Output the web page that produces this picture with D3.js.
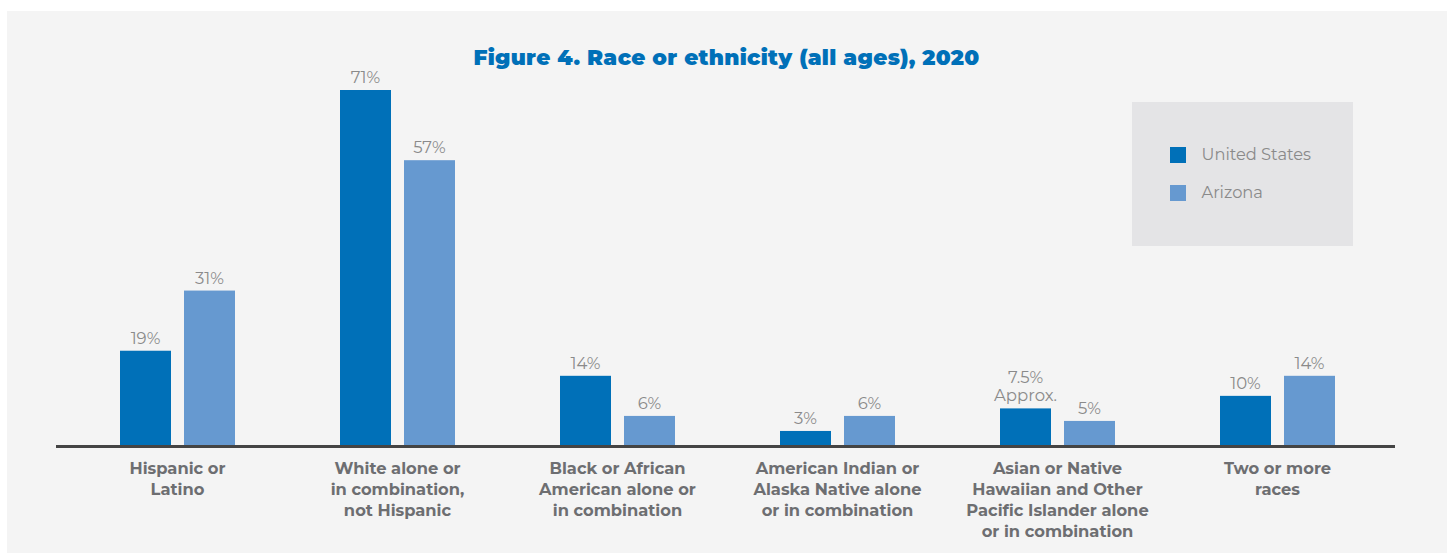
<!DOCTYPE html>
<html>
<head>
<meta charset="utf-8">
<script src="https://cdn.jsdelivr.net/npm/d3@7"></script>
<style>
  html, body { margin: 0; padding: 0; background: #ffffff; }
  svg { display: block; }
</style>
</head>
<body>
<svg id="chart" width="1450" height="557"></svg>
<script>
const categories = [
  ["Hispanic or", "Latino"],
  ["White alone or", "in combination,", "not Hispanic"],
  ["Black or African", "American alone or", "in combination"],
  ["American Indian or", "Alaska Native alone", "or in combination"],
  ["Asian or Native", "Hawaiian and Other", "Pacific Islander alone", "or in combination"],
  ["Two or more", "races"]
];
const seriesNames = ["United States", "Arizona"];
const usValues = [19, 71, 14, 3, 7.5, 10];
const azValues = [31, 57, 6, 6, 5, 14];
const usLabels = [["19%"], ["71%"], ["14%"], ["3%"], ["7.5%", "Approx."], ["10%"]];
const azLabels = [["31%"], ["57%"], ["6%"], ["6%"], ["5%"], ["14%"]];
const title = "Figure 4. Race or ethnicity (all ages), 2020";

const colors = ["#0070b8", "#6699d0"];
const FONT = "Montserrat, 'Open Sans', Lato, sans-serif";

const svg = d3.select("#chart");
svg.append("rect").attr("x", 7).attr("y", 11).attr("width", 1440).attr("height", 542).attr("fill", "#f4f4f4");

const idx = d3.range(categories.length);
const x0 = d3.scaleBand().domain(idx).range([67.5, 1387.5]).paddingInner(105 / 220).paddingOuter(105 / 440);
const x1 = d3.scaleBand().domain([0, 1]).range([0, x0.bandwidth()]).paddingInner(13 / 64).paddingOuter(0);
const y = d3.scaleLinear().domain([0, 71]).range([446, 90]);

const data = idx.map(i => ({ i, vals: [usValues[i], azValues[i]], labels: [usLabels[i], azLabels[i]] }));

// title
svg.append("text").attr("x", 726.5).attr("y", 65).attr("text-anchor", "middle")
  .attr("font-family", FONT).attr("font-weight", 900).attr("font-size", 21.6)
  .attr("letter-spacing", 0.3)
  .attr("fill", "#0070b8").text(title);

const groups = svg.selectAll("g.grp").data(data).join("g").attr("class", "grp")
  .attr("transform", d => `translate(${x0(d.i)},0)`);

groups.selectAll("rect").data(d => d.vals.map((v, s) => ({ v, s }))).join("rect")
  .attr("x", d => x1(d.s)).attr("width", x1.bandwidth())
  .attr("y", d => y(d.v)).attr("height", d => y(0) - y(d.v))
  .attr("fill", d => colors[d.s]);

groups.selectAll("text.val").data(d => d.vals.map((v, s) => ({ v, s, lab: d.labels[s] }))).join("text")
  .attr("class", "val")
  .attr("text-anchor", "middle")
  .attr("font-family", FONT).attr("font-weight", 400).attr("font-size", 16.5)
  .attr("fill", "#8a8a8a")
  .each(function(d) {
    const t = d3.select(this);
    const n = d.lab.length;
    d.lab.forEach((line, k) => {
      t.append("tspan").attr("x", x1(d.s) + x1.bandwidth() / 2)
        .attr("y", y(d.v) - 7 - (n - 1 - k) * 18).text(line);
    });
  });

// axis line
svg.append("line").attr("x1", 56).attr("x2", 1395).attr("y1", y(0) + 0.5).attr("y2", y(0) + 0.5)
  .attr("stroke", "#444444").attr("stroke-width", 3);

// category labels
svg.selectAll("text.cat").data(data).join("text").attr("class", "cat")
  .attr("text-anchor", "middle")
  .attr("font-family", FONT).attr("font-weight", 700).attr("font-size", 16.3)
  .attr("fill", "#6d6e71")
  .each(function(d) {
    const t = d3.select(this);
    categories[d.i].forEach((line, k) => {
      t.append("tspan").attr("x", x0(d.i) + x0.bandwidth() / 2).attr("y", 474 + k * 21).text(line);
    });
  });

// legend
const lg = svg.append("g");
lg.append("rect").attr("x", 1132).attr("y", 102).attr("width", 221).attr("height", 144).attr("fill", "#e4e4e6");
seriesNames.forEach((name, s) => {
  lg.append("rect").attr("x", 1170).attr("y", 147 + s * 38).attr("width", 16).attr("height", 16).attr("fill", colors[s]);
  lg.append("text").attr("x", 1201.5).attr("y", 160 + s * 38)
    .attr("font-family", FONT).attr("font-size", 16.3).attr("fill", "#8a8a8a").text(name);
});
</script>
</body>
</html>
